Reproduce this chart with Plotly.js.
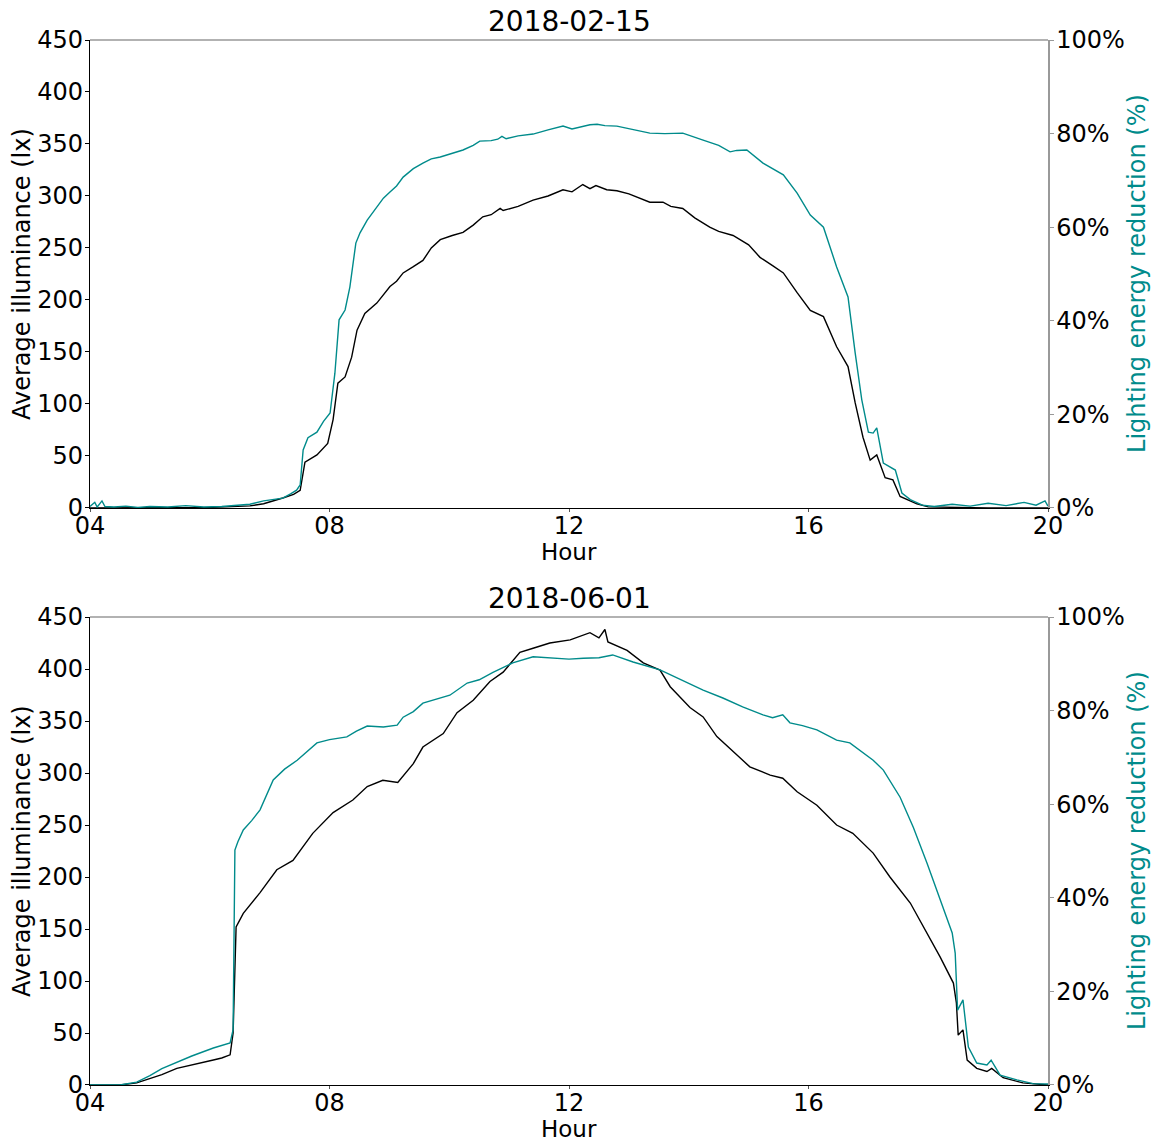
<!DOCTYPE html>
<html>
<head>
<meta charset="utf-8">
<script src="https://cdn.plot.ly/plotly-3.0.1.min.js"></script>
<style>html,body{margin:0;padding:0;background:#fff;}#chart{width:1154px;height:1142px;}</style>
</head>
<body>
<div id="chart"></div>
<script>
// ---- Data (hours of day, decimal) ----
const hourTickVals = [4, 8, 12, 16, 20];
const hourTickText = ["04", "08", "12", "16", "20"];
const illumTickVals = [0, 50, 100, 150, 200, 250, 300, 350, 400, 450];
const pctTickVals = [0, 20, 40, 60, 80, 100];
const pctTickText = ["0%", "20%", "40%", "60%", "80%", "100%"];
const panelTitles = ["2018-02-15", "2018-06-01"];
const xTitle = "Hour";
const yLeftTitle = "Average illuminance (lx)";
const yRightTitle = "Lighting energy reduction (%)";

// 2018-02-15 : lighting energy reduction (%)
const febReductionHour = [4.0,4.08,4.12,4.2,4.25,4.4,4.6,4.8,5.0,5.3,5.6,5.9,6.2,6.5,6.67,6.9,7.05,7.22,7.35,7.45,7.51,7.56,7.64,7.79,7.9,8.01,8.09,8.16,8.26,8.34,8.44,8.51,8.63,8.79,8.9,9.01,9.12,9.23,9.4,9.56,9.7,9.85,10.05,10.23,10.4,10.51,10.7,10.81,10.88,10.95,11.15,11.4,11.65,11.9,12.05,12.2,12.35,12.47,12.6,12.8,13.1,13.35,13.6,13.9,14.24,14.5,14.69,14.8,14.97,15.1,15.24,15.58,15.81,16.03,16.25,16.47,16.66,16.78,16.89,17.0,17.08,17.14,17.25,17.45,17.56,17.7,17.81,17.9,18.1,18.4,18.7,19.0,19.3,19.6,19.8,19.95,20.0];
const febReduction = [0.3,1.2,0.2,1.5,0.3,0.2,0.4,0.1,0.3,0.2,0.5,0.2,0.3,0.6,0.8,1.5,1.8,2.1,3.0,3.8,4.9,12.4,15.0,16.2,18.5,20.3,28.8,40.2,42.3,47.2,56.6,58.8,61.5,64.3,66.2,67.5,68.8,70.7,72.5,73.7,74.6,75.0,75.8,76.5,77.5,78.4,78.5,78.8,79.4,78.9,79.5,79.9,80.8,81.6,81.0,81.4,81.9,82.0,81.7,81.6,80.8,80.1,80.0,80.1,78.6,77.5,76.1,76.4,76.5,75.2,73.7,71.2,67.3,62.6,60.0,51.5,45.1,33.1,23.1,16.2,16.0,17.1,9.6,8.1,3.2,1.8,1.1,0.6,0.3,0.8,0.4,1.0,0.5,1.2,0.6,1.5,0.4];

// 2018-02-15 : average illuminance (lx)
const febIllumHour = [4.0,5.0,6.0,6.67,6.9,7.22,7.4,7.51,7.59,7.79,7.97,8.06,8.14,8.26,8.37,8.46,8.59,8.79,8.9,9.01,9.12,9.23,9.4,9.56,9.7,9.85,10.05,10.23,10.4,10.56,10.7,10.85,10.9,11.15,11.4,11.65,11.9,12.05,12.23,12.35,12.45,12.63,12.8,13.0,13.35,13.57,13.7,13.9,14.1,14.35,14.5,14.74,15.0,15.19,15.4,15.58,15.81,16.03,16.25,16.47,16.66,16.78,16.91,17.03,17.14,17.28,17.41,17.53,17.81,18.0,19.0,20.0];
const febIllum = [0,0,0.5,2,4,9.6,13,17,44,51,62,85,120,126,145,171,187,197,205,213,218,226,232,238,250,258,262,265,272,280,282,288,286,290,296,300,306,304,311,307,310,306,305,302,294,294,290,288,279,270,266,262,253,241,233,226,207,190,184,155,136,101,68,46,51,29,27,11,4,1,0,0];

// 2018-06-01 : lighting energy reduction (%)
const junReductionHour = [4.0,4.5,4.78,5.0,5.2,5.45,5.7,6.06,6.2,6.34,6.39,6.42,6.47,6.56,6.7,6.84,7.06,7.25,7.46,7.79,8.0,8.29,8.45,8.63,8.9,9.13,9.23,9.4,9.56,9.8,10.01,10.3,10.5,10.73,11.06,11.4,11.68,12.0,12.24,12.5,12.73,13.07,13.52,13.9,14.24,14.57,14.9,15.24,15.4,15.57,15.69,15.9,16.14,16.47,16.69,17.08,17.25,17.53,17.75,17.98,18.2,18.4,18.45,18.49,18.58,18.67,18.81,18.98,19.05,19.2,19.48,19.75,20.0];
const junReduction = [0,0,0.6,2,3.5,4.9,6.2,7.9,8.5,9.0,11.8,50.2,52,54.5,56.5,58.8,65.2,67.5,69.4,73.1,73.8,74.4,75.6,76.7,76.5,76.9,78.6,79.8,81.6,82.5,83.3,85.9,86.6,88.2,90.2,91.5,91.2,91.0,91.2,91.3,91.9,90.4,88.7,86.5,84.4,82.7,80.8,79.1,78.5,79.1,77.4,76.8,75.9,73.7,73.1,69.4,67.3,61.5,55.1,47.4,39.5,32.5,28.2,16,18.2,8.1,4.7,4.3,5.3,2.1,1.1,0.3,0.2];

// 2018-06-01 : average illuminance (lx)
const junIllumHour = [4.0,4.5,4.78,5.0,5.2,5.45,5.7,6.06,6.2,6.34,6.39,6.44,6.56,6.84,7.12,7.39,7.72,8.06,8.39,8.63,8.89,9.14,9.4,9.56,9.9,10.13,10.4,10.68,10.9,11.18,11.4,11.68,12.02,12.35,12.5,12.6,12.65,12.97,13.24,13.52,13.69,14.02,14.24,14.47,14.81,15.02,15.36,15.57,15.81,16.14,16.47,16.74,17.08,17.36,17.7,17.98,18.2,18.42,18.47,18.5,18.58,18.65,18.81,18.98,19.06,19.25,19.58,20.0];
const junIllum = [0,0,2,6,10,16,19,24,26,29,50,152,165,185,207,216,242,262,274,287,293,291,309,325,338,358,370,388,397,416,420,425,428,435,430,438,426,418,406,399,383,363,354,335,317,306,298,295,282,269,250,242,223,200,175,146,123,98,79,48,53,24,16,13,16,7,2,0];

// ---- Styling ----
const TEAL = "#008b8b";
const FONT = "DejaVu Sans, Verdana, sans-serif";

const traces = [
  {x: febIllumHour, y: febIllum, xaxis: "x", yaxis: "y", mode: "lines", line: {color: "#000", width: 1.4}, showlegend: false},
  {x: febReductionHour, y: febReduction, xaxis: "x", yaxis: "y2", mode: "lines", line: {color: TEAL, width: 1.4}, showlegend: false},
  {x: junIllumHour, y: junIllum, xaxis: "x2", yaxis: "y3", mode: "lines", line: {color: "#000", width: 1.4}, showlegend: false},
  {x: junReductionHour, y: junReduction, xaxis: "x2", yaxis: "y4", mode: "lines", line: {color: TEAL, width: 1.4}, showlegend: false}
];

const topDom = [0.5522, 1];
const botDom = [0, 0.4478];

function xAx(anchor) {
  return {
    anchor: anchor, domain: [0, 1], range: [4, 20],
    tickmode: "array", tickvals: hourTickVals, ticktext: hourTickText,
    ticks: "outside", ticklen: 3, tickcolor: "#555", tickfont: {size: 24, color: "#000"},
    ticklabelstandoff: -7,
    showline: true, linecolor: "#000", linewidth: 1.2, showgrid: false, zeroline: false
  };
}
function yLeft(dom, anchor) {
  return {
    domain: dom, anchor: anchor, range: [0, 450],
    tickmode: "array", tickvals: illumTickVals,
    ticks: "outside", ticklen: 4, tickcolor: "#000", tickfont: {size: 24, color: "#000"},
    ticklabelstandoff: -3,
    showline: true, linecolor: "#000", linewidth: 1.2, showgrid: false, zeroline: false
  };
}
function yRight(over, anchor) {
  return {
    overlaying: over, anchor: anchor, side: "right", range: [0, 100],
    tickmode: "array", tickvals: pctTickVals, ticktext: pctTickText,
    ticks: "outside", ticklen: 4, tickcolor: "#999", tickfont: {size: 24, color: "#000"},
    ticklabelstandoff: -2,
    showline: true, linecolor: "#999", linewidth: 1.5, showgrid: false, zeroline: false
  };
}

function panelAnnotations(xr, yr, title) {
  return [
    {text: title, xref: xr + " domain", yref: yr + " domain", x: 0.5, y: 1, xanchor: "center", yanchor: "bottom", yshift: 0, showarrow: false, font: {size: 28, color: "#000"}},
    {text: xTitle, xref: xr + " domain", yref: yr + " domain", x: 0.5, y: 0, xanchor: "center", yanchor: "middle", yshift: -44, showarrow: false, font: {size: 23, color: "#000"}},
    {text: yLeftTitle, xref: "paper", yref: yr + " domain", x: 0, y: 0.5, xanchor: "center", yanchor: "middle", xshift: -68, textangle: -90, showarrow: false, font: {size: 24, color: "#000"}},
    {text: yRightTitle, xref: "paper", yref: yr + " domain", x: 1, y: 0.5, xanchor: "center", yanchor: "middle", xshift: 89, textangle: -90, showarrow: false, font: {size: 24, color: TEAL}}
  ];
}

const layout = {
  width: 1154, height: 1142,
  margin: {l: 90, r: 106, t: 40, b: 57},
  paper_bgcolor: "#fff", plot_bgcolor: "#fff",
  font: {family: FONT, color: "#000"},
  showlegend: false,
  xaxis: xAx("y"),
  yaxis: yLeft(topDom, "x"),
  yaxis2: yRight("y", "x"),
  xaxis2: xAx("y3"),
  yaxis3: yLeft(botDom, "x2"),
  yaxis4: yRight("y3", "x2"),
  shapes: [
    {type: "line", xref: "x domain", yref: "y domain", x0: 0, x1: 1, y0: 1, y1: 1, line: {color: "#999", width: 1.5}},
    {type: "line", xref: "x2 domain", yref: "y3 domain", x0: 0, x1: 1, y0: 1, y1: 1, line: {color: "#999", width: 1.5}}
  ],
  annotations: panelAnnotations("x", "y", panelTitles[0]).concat(panelAnnotations("x2", "y3", panelTitles[1]))
};

Plotly.newPlot("chart", traces, layout, {displayModeBar: false, staticPlot: true});
</script>
</body>
</html>
